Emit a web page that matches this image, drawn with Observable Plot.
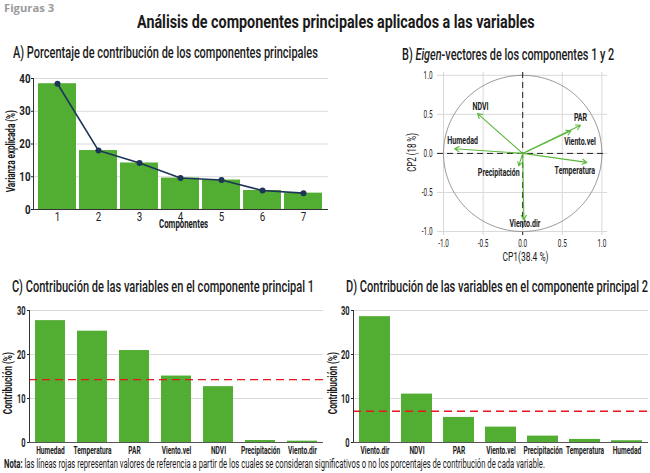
<!DOCTYPE html>
<html><head><meta charset="utf-8">
<script src="https://cdn.jsdelivr.net/npm/d3@7"></script>
<script src="https://cdn.jsdelivr.net/npm/@observablehq/plot@0.6"></script>
<style>
body{margin:0;background:#fff;}
#fig{position:relative;width:650px;height:473px;overflow:hidden;font-family:Roboto,"Liberation Sans",sans-serif;color:#1a1a1a;}
.t{position:absolute;white-space:nowrap;line-height:1.15;}
.p{position:absolute;}
</style></head><body><div id="fig"></div>
<script>
// ---------- data ----------
const components = [1, 2, 3, 4, 5, 6, 7];
const varianceExplained = [38.4, 18.0, 14.2, 9.6, 9.0, 5.8, 5.0];

const variables = ["Humedad", "Temperatura", "PAR", "Viento.vel", "NDVI", "Precipitación", "Viento.dir"];
const cp1 = [-0.86, 0.81, 0.73, 0.61, -0.57, -0.05, 0.015];
const cp2 = [0.06, -0.115, 0.36, 0.29, 0.51, -0.16, -0.85];
const eigenTicks = [-1.0, -0.5, 0.0, 0.5, 1.0];

const varsC = ["Humedad", "Temperatura", "PAR", "Viento.vel", "NDVI", "Precipitación", "Viento.dir"];
const contribC = [27.7, 25.3, 20.9, 15.1, 12.7, 0.45, 0.3];
const refC = 14.29;

const varsD = ["Viento.dir", "NDVI", "PAR", "Viento.vel", "Precipitación", "Temperatura", "Humedad"];
const contribD = [28.6, 11.0, 5.7, 3.5, 1.45, 0.7, 0.4];
const refD = 7.1;

// ---------- styles ----------
const GREEN = "#52ad33", ARROW = "#5cb83c", NAVY = "#1d3557", RED = "#e8141f";
const FONT = "Roboto,'Liberation Sans',sans-serif";
const labelOffsets = {
  "Humedad": [8, -8], "Temperatura": [-12, 8], "PAR": [0, -8], "Viento.vel": [9, 11],
  "NDVI": [3, -7], "Precipitación": [-20, 7], "Viento.dir": [1, 4]
};
const fig = document.getElementById("fig");

// text placed in HTML, horizontally compressed to the reference's condensed width
function addText(html, x, y, o = {}) {
  const d = document.createElement("div");
  d.className = "t";
  d.innerHTML = html;
  d.style.fontSize = (o.size || 11) + "px";
  d.style.fontWeight = o.weight || "normal";
  if (o.color) d.style.color = o.color;
  if (o.family) d.style.fontFamily = o.family;
  fig.appendChild(d);
  const w = d.offsetWidth, h = d.offsetHeight;
  const sx = o.width ? o.width / w : 1;
  const start = o.anchor === "start";
  d.style.left = (start ? x : x - w / 2) + "px";
  d.style.top = (y - h / 2) + "px";
  d.style.transformOrigin = start ? "left center" : "center center";
  d.style.transform = (o.rotate ? "rotate(-90deg) " : "") + `scaleX(${sx})`;
}
function place(svg, x, y) {
  svg.classList.add("p");
  svg.style.left = x + "px";
  svg.style.top = y + "px";
  fig.appendChild(svg);
}
function condense(svg, f) {
  svg.querySelectorAll("text").forEach(t => {
    const L = t.getComputedTextLength();
    if (L > 0) {
      t.setAttribute("textLength", (L * f).toFixed(2));
      t.setAttribute("lengthAdjust", "spacingAndGlyphs");
    }
  });
}
const baseStyle = {fontFamily: FONT, fontSize: "11px", color: "#222", background: "transparent", overflow: "visible"};

// ---------- Panel A ----------
const dataA = components.map((c, i) => ({c, v: varianceExplained[i]}));
const A = Plot.plot({
  width: 330, height: 170, marginLeft: 33, marginRight: 2, marginTop: 13, marginBottom: 26,
  style: {...baseStyle, fontSize: "13px"},
  x: {type: "band", domain: components, paddingInner: 0.07, paddingOuter: 0.09},
  y: {domain: [0, 40]},
  marks: [
    Plot.gridY([10, 20, 30, 40], {stroke: "#d9d9d9", strokeOpacity: 1}),
    Plot.barY(dataA, {x: "c", y: "v", fill: GREEN}),
    Plot.line(dataA, {x: "c", y: "v", stroke: NAVY, strokeWidth: 1.6}),
    Plot.dot(dataA, {x: "c", y: "v", fill: NAVY, r: 3}),
    Plot.frame({anchor: "left", stroke: "#333"}),
    Plot.ruleY([0], {stroke: "#333"}),
    Plot.axisY([0, 10, 20, 30, 40], {tickSize: 2, tickPadding: 1, label: null, fontWeight: "bold", fontSize: 13}),
    Plot.axisX({tickSize: 0, tickPadding: 2, label: null, fontSize: 13})
  ]
});
place(A, 0, 65);
condense(A, 0.75);

// ---------- Panel B ----------
const dataB = variables.map((name, i) => ({name, x: cp1[i], y: cp2[i]}));
const circle = d3.range(0, 361, 2).map(a => ({x: Math.cos(a * Math.PI / 180), y: Math.sin(a * Math.PI / 180)}));
const B = Plot.plot({
  width: 220, height: 210, marginLeft: 37, marginRight: 13, marginTop: 12, marginBottom: 35,
  style: {...baseStyle, fontSize: "10px"},
  x: {domain: [-1.076, 1.071]},
  y: {domain: [-1.051, 1.036]},
  marks: [
    Plot.gridX(eigenTicks, {stroke: "#d9d9d9", strokeOpacity: 1}),
    Plot.gridY(eigenTicks, {stroke: "#d9d9d9", strokeOpacity: 1}),
    Plot.line(circle, {x: "x", y: "y", stroke: "#8c8c8c", strokeWidth: 0.9}),
    Plot.ruleX([0], {stroke: "#222", strokeDasharray: "6,4"}),
    Plot.ruleY([0], {stroke: "#222", strokeDasharray: "6,4"}),
    Plot.arrow(dataB, {x1: () => 0, y1: () => 0, x2: "x", y2: "y", stroke: ARROW, strokeWidth: 1.1, headLength: 7}),
    ...dataB.map(d => Plot.text([d], {x: "x", y: "y", text: "name", dx: labelOffsets[d.name][0], dy: labelOffsets[d.name][1], fontWeight: "bold", fontSize: 11, fill: "#222"})),
    Plot.axisX(eigenTicks, {tickSize: 0, tickPadding: 4, label: null, tickFormat: d => d.toFixed(1)}),
    Plot.axisY(eigenTicks, {tickSize: 0, tickPadding: 5, label: null, tickFormat: d => d.toFixed(1)})
  ]
});
place(B, 400, 60);
condense(B, 0.64);

// ---------- Panels C & D ----------
function contribPlot(vars, vals, ref, mLeft, mRight, pi, po) {
  const data = vars.map((v, i) => ({v, c: vals[i]}));
  return Plot.plot({
    width: 330, height: 165, marginLeft: mLeft, marginRight: mRight, marginTop: 10, marginBottom: 23,
    style: {...baseStyle, fontSize: "11px"},
    x: {type: "band", domain: vars, paddingInner: pi, paddingOuter: po},
    y: {domain: [0, 30]},
    marks: [
      Plot.gridY([10, 20, 30], {stroke: "#d9d9d9", strokeOpacity: 1}),
      Plot.barY(data, {x: "v", y: "c", fill: GREEN}),
      Plot.ruleY([ref], {stroke: RED, strokeDasharray: "8,5", strokeWidth: 1.3}),
      Plot.frame({anchor: "left", stroke: "#333"}),
      Plot.ruleY([0], {stroke: "#555"}),
      Plot.axisY([0, 10, 20, 30], {tickSize: 2, tickPadding: 2, label: null, fontWeight: "bold", fontSize: 12.5}),
      Plot.axisX({tickSize: 0, tickPadding: 4, label: null, fontWeight: "bold", fontSize: 11})
    ]
  });
}
const C = contribPlot(varsC, contribC, refC, 29, 7, 0.287, 0.13);
place(C, 0, 300);
condense(C, 0.6);
const D = contribPlot(varsD, contribD, refD, 33, 2, 0.27, 0.135);
place(D, 320, 300);
condense(D, 0.6);

// ---------- texts ----------
addText("Figuras 3", 4, 8, {anchor: "start", size: 11, weight: "bold", color: "#9a9a9a", family: "'Open Sans',sans-serif", width: 50});
addText("Análisis de componentes principales aplicados a las variables", 137, 22, {anchor: "start", size: 18.5, weight: "bold", width: 398});
addText("A) Porcentaje de contribución de los componentes principales", 13, 53, {anchor: "start", size: 16.5, weight: 500, width: 305});
addText("B) <i>Eigen</i>-vectores de los componentes 1 y 2", 402, 55, {anchor: "start", size: 16.5, weight: 500, width: 212});
addText("C) Contribución de las variables en el componente principal 1", 12, 287, {anchor: "start", size: 16.5, weight: 500, width: 302});
addText("D) Contribución de las variables en el componente principal 2", 346, 287, {anchor: "start", size: 16.5, weight: 500, width: 302});

addText("Varianza explicada (%)", 11, 151, {size: 12.5, weight: "bold", rotate: true, width: 82});
addText("Componentes", 183, 225, {size: 12, weight: "bold", width: 49});
addText("CP1(38.4 %)", 525.5, 257, {size: 13, width: 46});
addText("CP2 (18 %)", 413, 152, {size: 13, rotate: true, width: 39});
addText("Contribución (%)", 7, 382.5, {size: 12.5, weight: "bold", rotate: true, width: 62});
addText("Contribución (%)", 332.5, 382.5, {size: 12.5, weight: "bold", rotate: true, width: 62});
addText("<b>Nota:</b> las líneas rojas representan valores de referencia a partir de los cuales se consideran significativos o no los porcentajes de contribución de cada variable.", 4, 465, {anchor: "start", size: 12, width: 541});
</script></body></html>
